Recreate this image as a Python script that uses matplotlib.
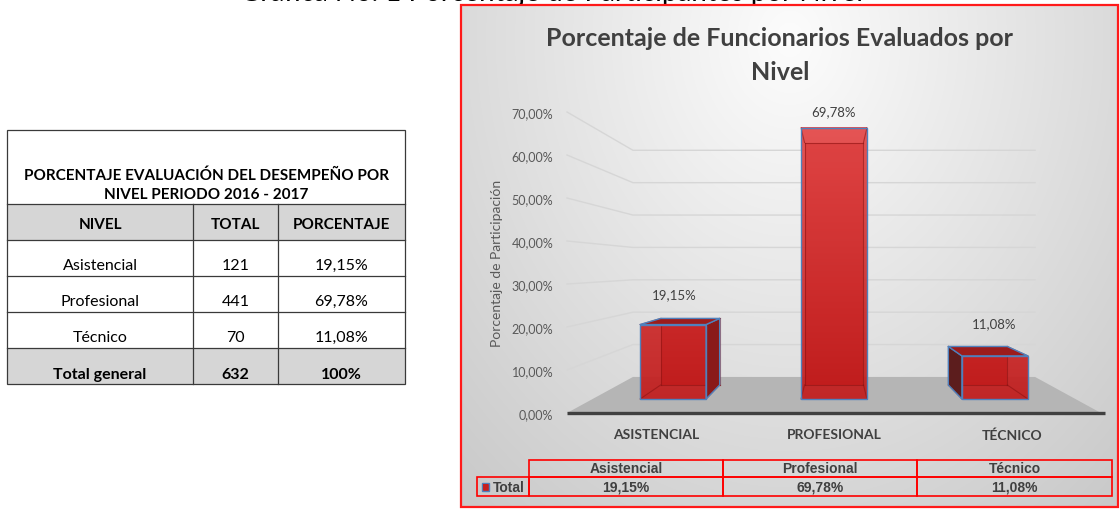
import numpy as np
import matplotlib
matplotlib.use("Agg")
import matplotlib.pyplot as plt
from matplotlib.patches import Rectangle, Polygon

# ---------------- data ----------------
niveles = ["Asistencial", "Profesional", "Técnico"]
totales = [121, 441, 70]
porcentajes = [19.15, 69.78, 11.08]
total_general = 632
total_pct = "100%"
categorias = ["ASISTENCIAL", "PROFESIONAL", "TÉCNICO"]
y_ticks = [0, 10, 20, 30, 40, 50, 60, 70]
table_title = ["PORCENTAJE EVALUACIÓN DEL DESEMPEÑO POR", "NIVEL PERIODO 2016 - 2017"]
headers = ["NIVEL", "TOTAL", "PORCENTAJE"]
total_label = "Total general"
chart_title = ["Porcentaje de Funcionarios Evaluados por", "Nivel"]
y_label = "Porcentaje de Participación"
series_name = "Total"
caption = "Gráfica No. 1 Porcentaje de Participantes por Nivel"


def fmt(v):
    return f"{v:.2f}".replace(".", ",") + "%"


FONT = "Lato"
W, H = 1120, 510
fig = plt.figure(figsize=(11.2, 5.1), dpi=100)
fig.patch.set_facecolor("white")
bg = fig.add_axes([0, 0, 1, 1])
bg.set_xlim(0, W)
bg.set_ylim(H, 0)
bg.axis("off")

# ---------------- caption (cut at top, as in the reference) ----------------
bg.text(552, 0.6, caption, ha="center", va="baseline", fontsize=20,
        family=FONT, color="black", zorder=1)

# ---------------- left table ----------------
tx0, tx1 = 7, 405
col_x = [7, 193, 278, 405]
row_y = [131, 205, 241, 277, 313, 349, 385]
gray = "#d6d6d6"
lc = "#3a3a3a"
bg.add_patch(Rectangle((tx0, row_y[1]), tx1 - tx0, row_y[2] - row_y[1], fc=gray, ec="none"))
bg.add_patch(Rectangle((tx0, row_y[5]), tx1 - tx0, row_y[6] - row_y[5], fc=gray, ec="none"))
bg.add_patch(Rectangle((tx0, row_y[0]), tx1 - tx0, row_y[6] - row_y[0], fc="none", ec=lc, lw=0.9))
for yy in row_y[1:-1]:
    bg.plot([tx0, tx1], [yy, yy], color=lc, lw=0.9)
for xx in col_x[1:-1]:
    bg.plot([xx, xx], [row_y[1], row_y[6]], color=lc, lw=0.9)
tcx = (tx0 + tx1) / 2
bg.text(tcx, 176, table_title[0], ha="center", va="center", fontsize=11,
        family=FONT, weight="bold", color="black")
bg.text(tcx, 195, table_title[1], ha="center", va="center", fontsize=11,
        family=FONT, weight="bold", color="black")
ccx = [(col_x[i] + col_x[i + 1]) / 2 for i in range(3)]
for i, h in enumerate(headers):
    bg.text(ccx[i], 225, h, ha="center", va="center", fontsize=11,
            family=FONT, weight="bold", color="black")
ry = [266, 302, 338]
for i in range(3):
    bg.text(ccx[0], ry[i], niveles[i], ha="center", va="center", fontsize=11.5, family=FONT)
    bg.text(ccx[1], ry[i], str(totales[i]), ha="center", va="center", fontsize=11.5, family=FONT)
    bg.text(ccx[2], ry[i], fmt(porcentajes[i]), ha="center", va="center", fontsize=11.5, family=FONT)
bg.text(ccx[0], 375, total_label, ha="center", va="center", fontsize=11.5, family=FONT, weight="bold")
bg.text(ccx[1], 375, str(total_general), ha="center", va="center", fontsize=11.5, family=FONT, weight="bold")
bg.text(ccx[2], 375, total_pct, ha="center", va="center", fontsize=11.5, family=FONT, weight="bold")

# ---------------- chart panel background ----------------
px0, py0, px1, py1 = 461, 6, 1118, 508
gx = np.linspace(px0, px1, 330)
gy = np.linspace(py0, py1, 250)
XX, YY = np.meshgrid(gx, gy)
d = np.sqrt(((XX - 790) / 420) ** 2 + ((YY - 40) / 520) ** 2)
val = 0.99 - 0.17 * np.clip(d, 0, 1.3)
img = np.dstack([val, val, val])
bg.imshow(img, extent=(px0, px1, py1, py0), aspect="auto", zorder=0.5, interpolation="bilinear")
bg.set_xlim(0, W)
bg.set_ylim(H, 0)
bg.add_patch(Rectangle((px0, py0), px1 - px0, py1 - py0, fc="none", ec="#ff1a1a", lw=1.6, zorder=5))

# title
bg.text(780, 38, chart_title[0], ha="center", va="center", fontsize=18,
        family=FONT, weight="bold", color="#404040", zorder=6)
bg.text(780, 72, chart_title[1], ha="center", va="center", fontsize=18,
        family=FONT, weight="bold", color="#404040", zorder=6)
bg.text(497, 263, y_label, ha="center", va="center", rotation=90, fontsize=10,
        family=FONT, color="#595959", zorder=6)

# ---------------- 3D-like chart ----------------
ax = fig.add_axes([567 / W, (H - 414) / H, (1101 - 567) / W, (414 - 113) / H])
ax.set_zorder(3)
ax.patch.set_visible(False)
ax.set_xlim(-0.5, 2.5)
ax.set_ylim(0, 70)
for s in ax.spines.values():
    s.set_visible(False)

VPX, VPY = 1.0, 33.95
S_WALL, S_BF, S_BB = 0.753, 0.904, 0.808
HW = 0.205


def proj(x, y, s):
    return (VPX + (x - VPX) * s, VPY + (y - VPY) * s)


# gridlines (side wall + back wall)
for t in y_ticks[1:]:
    p1 = proj(-0.5, t, 1.0)
    p2 = proj(-0.5, t, S_WALL)
    p3 = proj(2.5, t, S_WALL)
    ax.plot([p1[0], p2[0], p3[0]], [p1[1], p2[1], p3[1]], color="#d6d6d6", lw=1.0,
            zorder=1, clip_on=False)

# floor
floor = [proj(-0.5, 0, 1), proj(2.5, 0, 1), proj(2.5, 0, S_WALL), proj(-0.5, 0, S_WALL)]
ax.add_patch(Polygon(floor, closed=True, fc="#b5b5b5", ec="none", zorder=2, clip_on=False))
ax.plot([-0.5, 2.52], [0, 0], color="#404040", lw=2.4, zorder=2.5, clip_on=False,
        solid_capstyle="butt")

BLUE = "#4f81bd"
bottom_c = np.array([0xc0, 0x1a, 0x1a]) / 255
top_c = np.array([0xe6, 0x4b, 0x4b]) / 255

for i, v in enumerate(porcentajes):
    c = i
    xl, xr = c - HW, c + HW
    fbl, fbr, ftr, ftl = proj(xl, 0, S_BF), proj(xr, 0, S_BF), proj(xr, v, S_BF), proj(xl, v, S_BF)
    bbl, bbr, btr, btl = proj(xl, 0, S_BB), proj(xr, 0, S_BB), proj(xr, v, S_BB), proj(xl, v, S_BB)
    # back face
    ax.add_patch(Polygon([bbl, bbr, btr, btl], fc="#a81b1b", ec="none", zorder=3, clip_on=False))
    # front face gradient
    n = 100
    fy = np.linspace(ftl[1], fbl[1], n)
    frac = (fy / 70.0)[:, None]
    grad = bottom_c[None, :] * (1 - frac) + top_c[None, :] * frac
    grad = np.repeat(grad[:, None, :], 2, axis=1)
    ax.imshow(grad, extent=(fbl[0], fbr[0], fbl[1], ftl[1]), aspect="auto", zorder=4,
              alpha=0.93, interpolation="bilinear", clip_on=False)
    # hidden edges seen through
    hid = [(bbl, bbr), (bbr, btr), (btr, btl), (btl, bbl),
           (fbl, bbl), (fbr, bbr), (ftr, btr), (ftl, btl)]
    for a, b in hid:
        ax.plot([a[0], b[0]], [a[1], b[1]], color="#8c1212", lw=0.8, alpha=0.6,
                zorder=4.2, clip_on=False)
    # side faces
    if xr < VPX:
        ax.add_patch(Polygon([fbr, bbr, btr, ftr], fc="#8a1a1a", ec=BLUE, lw=1.0,
                             zorder=4.5, clip_on=False, joinstyle="round"))
    if xl > VPX:
        ax.add_patch(Polygon([fbl, bbl, btl, ftl], fc="#5c1d1d", ec=BLUE, lw=1.0,
                             zorder=4.5, clip_on=False, joinstyle="round"))
    # top face
    if v < VPY:
        ax.add_patch(Polygon([ftl, ftr, btr, btl], fc="#9c1c1c", ec=BLUE, lw=1.0,
                             zorder=4.6, clip_on=False, joinstyle="round"))
    ax.add_patch(Polygon([fbl, fbr, ftr, ftl], fc="none", ec=BLUE, lw=1.0,
                         zorder=4.8, clip_on=False))
    # data label
    lx = proj(c, v, 0.9)[0]
    ly = proj(c, v, 0.84)[1]
    ax.annotate(fmt(v), xy=(lx, ly), xytext=(0, 19), textcoords="offset points",
                ha="center", va="center", fontsize=9.5, family=FONT, color="#404040",
                zorder=6, annotation_clip=False)

ax.set_xlim(-0.5, 2.5)
ax.set_ylim(0, 70)
ax.set_yticks(y_ticks)
ax.set_yticklabels([fmt(t) for t in y_ticks], family=FONT, fontsize=9, color="#595959")
ax.set_xticks(range(len(categorias)))
ax.set_xticklabels(categorias, family=FONT, fontsize=10, weight="bold", color="#404040")
ax.tick_params(axis="y", length=0, pad=10)
ax.tick_params(axis="x", length=0, pad=11)

# ---------------- data table under chart ----------------
RED = "#ff0000"
tcols = [529, 723, 917, 1112]
ty = [461, 478, 497]
kx0 = 477
for j in range(3):
    bg.add_patch(Rectangle((tcols[j], ty[0]), tcols[j + 1] - tcols[j], ty[1] - ty[0],
                           fc="none", ec=RED, lw=1.2, zorder=6))
    bg.add_patch(Rectangle((tcols[j], ty[1]), tcols[j + 1] - tcols[j], ty[2] - ty[1],
                           fc="none", ec=RED, lw=1.2, zorder=6))
    cx = (tcols[j] + tcols[j + 1]) / 2
    bg.text(cx, 469.5, niveles[j], ha="center", va="center", fontsize=10,
            family="Liberation Sans", weight="bold", color="#404040", zorder=7)
    bg.text(cx, 488, fmt(porcentajes[j]), ha="center", va="center", fontsize=10,
            family="Liberation Sans", weight="bold", color="#404040", zorder=7)
bg.add_patch(Rectangle((kx0, ty[1]), tcols[0] - kx0, ty[2] - ty[1], fc="none", ec=RED,
                       lw=1.2, zorder=6))
bg.add_patch(Rectangle((482, 483.5), 7, 8, fc="#c62020", ec=BLUE, lw=1.0, zorder=7))
bg.add_patch(Rectangle((483, 484.5), 5, 6, fc="#c62020", ec="none", zorder=7.5))
bg.text(493, 488, series_name, ha="left", va="center", fontsize=10,
        family="Liberation Sans", weight="bold", color="#404040", zorder=7)

fig.savefig("out.png", dpi=100)
